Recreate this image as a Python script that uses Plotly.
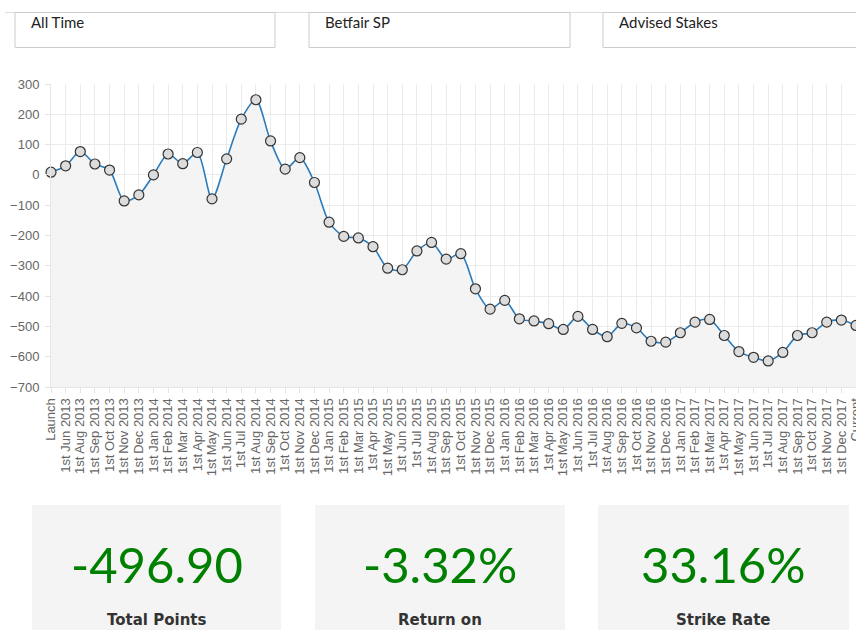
import plotly.graph_objects as go

# ---------------- data ----------------
categories = [
    "Launch", "1st Jun 2013", "1st Aug 2013", "1st Sep 2013", "1st Oct 2013", "1st Nov 2013", "1st Dec 2013",
    "1st Jan 2014", "1st Feb 2014", "1st Mar 2014", "1st Apr 2014", "1st May 2014", "1st Jun 2014",
    "1st Jul 2014", "1st Aug 2014", "1st Sep 2014", "1st Oct 2014", "1st Nov 2014", "1st Dec 2014",
    "1st Jan 2015", "1st Feb 2015", "1st Mar 2015", "1st Apr 2015", "1st May 2015", "1st Jun 2015",
    "1st Jul 2015", "1st Aug 2015", "1st Sep 2015", "1st Oct 2015", "1st Nov 2015", "1st Dec 2015",
    "1st Jan 2016", "1st Feb 2016", "1st Mar 2016", "1st Apr 2016", "1st May 2016", "1st Jun 2016",
    "1st Jul 2016", "1st Aug 2016", "1st Sep 2016", "1st Oct 2016", "1st Nov 2016", "1st Dec 2016",
    "1st Jan 2017", "1st Feb 2017", "1st Mar 2017", "1st Apr 2017", "1st May 2017", "1st Jun 2017",
    "1st Jul 2017", "1st Aug 2017", "1st Sep 2017", "1st Oct 2017", "1st Nov 2017", "1st Dec 2017",
    "Current",
]
points = [
    9, 30, 77, 36, 16, -86, -66,
    0, 69, 37, 74, -79, 53,
    184, 248, 112, 19, 57, -25,
    -156, -203, -208, -237, -308, -313,
    -251, -223, -278, -260, -376, -443,
    -414, -475, -482, -491, -510, -467,
    -510, -534, -490, -505, -549, -552,
    -521, -486, -477, -530, -583, -602,
    -614, -586, -530, -521, -486, -479,
    -496.9,
]
y_ticks = [300, 200, 100, 0, -100, -200, -300, -400, -500, -600, -700]
filters = ["All Time", "Betfair SP", "Advised Stakes"]
stat_values = ["-496.90", "-3.32%", "33.16%"]
stat_labels = ["Total Points", "Return on", "Strike Rate"]

# ---------------- layout geometry (pixels) ----------------
W, H = 856, 630
L, T, R_, B = 51, 84, 0, 243
PW, PH = W - L - R_, H - T - B
YMIN, YMAX = min(y_ticks), max(y_ticks)


def px(x):
    return (x - L) / PW


def py(y):
    return (T + PH - y) / PH


fig = go.Figure()

# baseline for area fill (bottom of the axis)
fig.add_trace(go.Scatter(
    x=categories, y=[YMIN] * len(categories), mode="lines",
    line=dict(width=0, color="rgba(0,0,0,0)"), hoverinfo="skip", showlegend=False,
))
fig.add_trace(go.Scatter(
    x=categories, y=points, mode="lines+markers",
    line=dict(color="#2b7bbb", width=1.6, shape="spline", smoothing=0.8),
    fill="tonexty", fillcolor="rgba(243,243,243,0.88)",
    marker=dict(size=10, color="#dcdcdc", line=dict(color="#333333", width=1.2)),
    cliponaxis=False, showlegend=False,
))

shapes = []
annotations = []

# top page line + filter boxes
shapes.append(dict(type="line", xref="paper", yref="paper",
                   x0=px(5), x1=px(W + 5), y0=py(12.5), y1=py(12.5),
                   line=dict(color="#dcdcdc", width=1)))
box_x = [(15, 275), (309, 570), (603, 880)]
for (x0, x1), label in zip(box_x, filters):
    shapes.append(dict(type="rect", xref="paper", yref="paper",
                       x0=px(x0), x1=px(x1), y0=py(47.5), y1=py(12.5),
                       line=dict(color="#cccccc", width=1), fillcolor="rgba(0,0,0,0)"))
    annotations.append(dict(xref="paper", yref="paper", x=px(x0 + 14), y=py(22),
                            text=label, showarrow=False, xanchor="left", yanchor="middle",
                            font=dict(family="Lato, Open Sans, sans-serif", size=15, color="#222222")))

# stat boxes
stat_x = [(32, 281), (315, 565), (598, 849)]
for (x0, x1), val, lab in zip(stat_x, stat_values, stat_labels):
    shapes.append(dict(type="rect", xref="paper", yref="paper",
                       x0=px(x0), x1=px(x1), y0=py(H + 20), y1=py(505),
                       line=dict(width=0), fillcolor="#f4f4f4", layer="below"))
    cx = (x0 + x1) / 2
    annotations.append(dict(xref="paper", yref="paper", x=px(cx), y=py(564),
                            text=val, showarrow=False, xanchor="center", yanchor="middle",
                            font=dict(family="Lato, Open Sans, sans-serif", size=49, color="#008000")))
    annotations.append(dict(xref="paper", yref="paper", x=px(cx), y=py(620),
                            text="<b>" + lab + "</b>", showarrow=False, xanchor="center", yanchor="middle",
                            font=dict(family="DejaVu Sans, Lato, sans-serif", size=15, color="#333333")))

fig.update_layout(
    width=W, height=H,
    margin=dict(l=L, r=R_, t=T, b=B, pad=0, autoexpand=False),
    paper_bgcolor="white", plot_bgcolor="white",
    shapes=shapes, annotations=annotations,
    showlegend=False,
    xaxis=dict(
        type="category", range=[0, len(categories) - 1], automargin=False,
        tickmode="array", tickvals=categories, ticktext=categories,
        showgrid=True, gridcolor="#ebebeb", gridwidth=1,
        ticks="outside", ticklen=5, tickcolor="#e3e3e3",
        tickangle=-90, showline=True, linecolor="#e6e6e6",
        tickfont=dict(family="Liberation Sans, Arial, sans-serif", size=13, color="#666666"),
        zeroline=False,
    ),
    yaxis=dict(
        range=[YMIN, YMAX], tickvals=y_ticks, automargin=False,
        showgrid=True, gridcolor="#ebebeb", gridwidth=1,
        ticks="outside", ticklen=5, tickcolor="#e3e3e3",
        showline=True, linecolor="#e6e6e6", zeroline=False,
        tickfont=dict(family="Liberation Sans, Arial, sans-serif", size=13, color="#666666"),
        ticklabelstandoff=3,
    ),
)

fig.write_html("out.html")
